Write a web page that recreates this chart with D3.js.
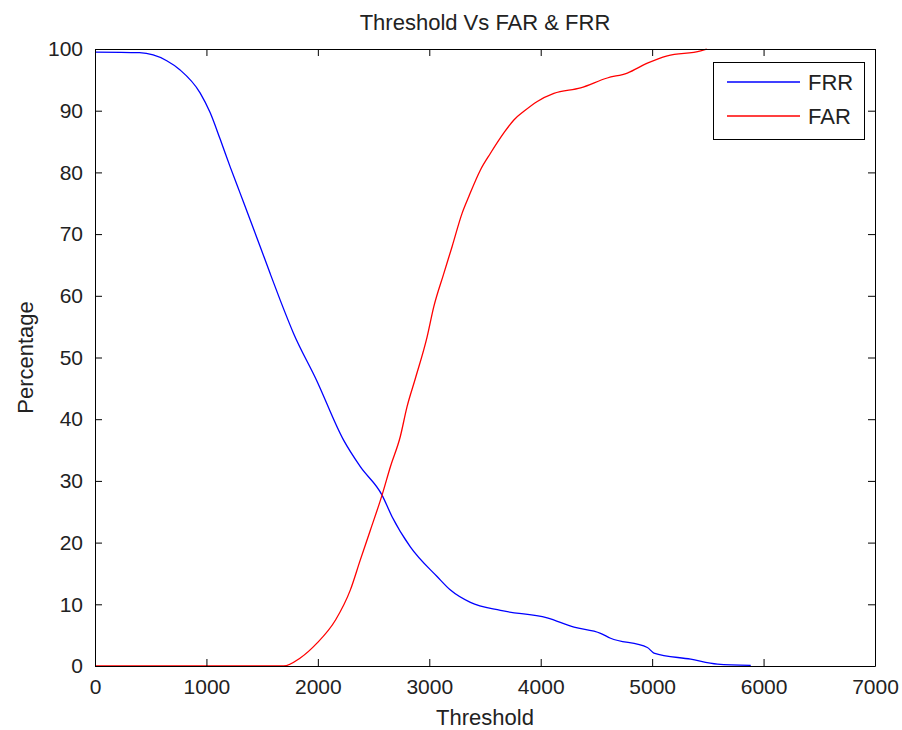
<!DOCTYPE html>
<html>
<head>
<meta charset="utf-8">
<script src="https://cdn.jsdelivr.net/npm/d3@7"></script>
<style>
  body { margin: 0; background: #fff; }
  text { font-family: "Liberation Sans", Arial, sans-serif; fill: #222; }
</style>
</head>
<body>
<svg id="chart"></svg>
<script>
const width = 902;
const height = 730;
const margin = { top: 49, right: 27, bottom: 64, left: 95 };

// FRR curve (threshold, percentage)
const frrThreshold = [0, 400, 644, 764, 943, 1033, 1123, 1213, 1303, 1393, 1482, 1572, 1662, 1782,
    1986, 2231, 2381, 2576, 2666, 2830, 3070, 3190, 3369, 3639, 4058, 4299, 4537, 4627, 4957, 5016,
    5346, 5586, 5885];
const frrValues = [99.5, 99.4, 98.1, 96.6, 92.9, 89.7, 85.4, 80.9, 76.6, 72.3, 68.0, 63.6, 59.3, 53.9,
    46.4, 36.6, 32.3, 27.7, 24.2, 19.3, 14.5, 12.3, 10.3, 9.0, 7.8, 6.3, 5.3, 4.5, 3.0, 2.1,
    1.1, 0.3, 0.1];

// FAR curve
const farThreshold = [0, 1692, 1842, 1992, 2160, 2291, 2381, 2471, 2576, 2651, 2740, 2800, 2875,
    2980, 3040, 3130, 3205, 3295, 3355, 3459, 3549, 3669, 3759, 3849, 3969, 4118, 4358, 4597,
    4777, 4957, 5136, 5436, 5490];
const farValues = [0, 0, 1.3, 3.7, 7.5, 12.3, 17.2, 22.0, 27.7, 32.3, 37.2, 42.0, 46.6,
    53.3, 58.2, 63.6, 68.0, 73.4, 76.1, 80.4, 83.1, 86.4, 88.5, 89.9, 91.5, 92.8, 93.7, 95.3,
    96.1, 97.7, 98.9, 99.7, 100];

const xTicks = [0, 1000, 2000, 3000, 4000, 5000, 6000, 7000];
const yTicks = [0, 10, 20, 30, 40, 50, 60, 70, 80, 90, 100];

const series = [
    { name: "FRR", color: "#0000ff", xs: frrThreshold, ys: frrValues },
    { name: "FAR", color: "#ff0000", xs: farThreshold, ys: farValues }
];

const svg = d3.select("#chart")
    .attr("width", width)
    .attr("height", height);

const xScale = d3.scaleLinear()
    .domain([0, 7000])
    .range([margin.left, width - margin.right]);

const yScale = d3.scaleLinear()
    .domain([0, 100])
    .range([height - margin.bottom, margin.top]);

const line = d3.line()
    .curve(d3.curveMonotoneX)
    .x(d => xScale(d[0]))
    .y(d => yScale(d[1]));

// lines
series.forEach(s => {
    svg.append("path")
        .datum(s.xs.map((x, i) => [x, s.ys[i]]))
        .attr("fill", "none")
        .attr("stroke", s.color)
        .attr("stroke-width", 1.3)
        .attr("d", line);
});

// axes with inward ticks on all four sides
const styleAxis = g => {
    g.selectAll("path, line").attr("stroke", "#000").attr("stroke-width", 1);
    g.selectAll("text").attr("fill", "#222").style("font-size", "21px")
        .style("font-family", "'Liberation Sans', Arial, sans-serif");
};

svg.append("g")
    .attr("transform", `translate(0, ${height - margin.bottom})`)
    .call(d3.axisBottom(xScale).tickValues(xTicks).tickFormat(d3.format("d"))
        .tickSizeInner(-7).tickSizeOuter(0).tickPadding(13))
    .call(styleAxis);

svg.append("g")
    .attr("transform", `translate(0, ${margin.top})`)
    .call(d3.axisTop(xScale).tickValues(xTicks).tickSizeInner(-7).tickSizeOuter(0).tickFormat(""))
    .call(styleAxis);

svg.append("g")
    .attr("transform", `translate(${margin.left}, 0)`)
    .call(d3.axisLeft(yScale).tickValues(yTicks).tickFormat(d3.format("d"))
        .tickSizeInner(-7).tickSizeOuter(0).tickPadding(12))
    .call(styleAxis);

svg.append("g")
    .attr("transform", `translate(${width - margin.right}, 0)`)
    .call(d3.axisRight(yScale).tickValues(yTicks).tickSizeInner(-7).tickSizeOuter(0).tickFormat(""))
    .call(styleAxis);

// title and axis labels
svg.append("text")
    .attr("x", (margin.left + width - margin.right) / 2)
    .attr("y", 30)
    .attr("text-anchor", "middle")
    .style("font-size", "22px")
    .text("Threshold Vs FAR & FRR");

svg.append("text")
    .attr("x", (margin.left + width - margin.right) / 2)
    .attr("y", 725)
    .attr("text-anchor", "middle")
    .style("font-size", "22px")
    .text("Threshold");

svg.append("text")
    .attr("transform", "rotate(-90)")
    .attr("x", -(margin.top + height - margin.bottom) / 2)
    .attr("y", 33)
    .attr("text-anchor", "middle")
    .style("font-size", "22px")
    .text("Percentage");

// legend
const legend = svg.append("g");
legend.append("rect")
    .attr("x", 713.5)
    .attr("y", 62.5)
    .attr("width", 151)
    .attr("height", 77)
    .attr("fill", "#fff")
    .attr("stroke", "#000");

series.forEach((s, i) => {
    const y = 82 + i * 34;
    legend.append("line")
        .attr("x1", 727).attr("x2", 800)
        .attr("y1", y).attr("y2", y)
        .attr("stroke", s.color)
        .attr("stroke-width", 1.3);
    legend.append("text")
        .attr("x", 808)
        .attr("y", y + 8)
        .style("font-size", "22px")
        .text(s.name);
});
</script>
</body>
</html>
